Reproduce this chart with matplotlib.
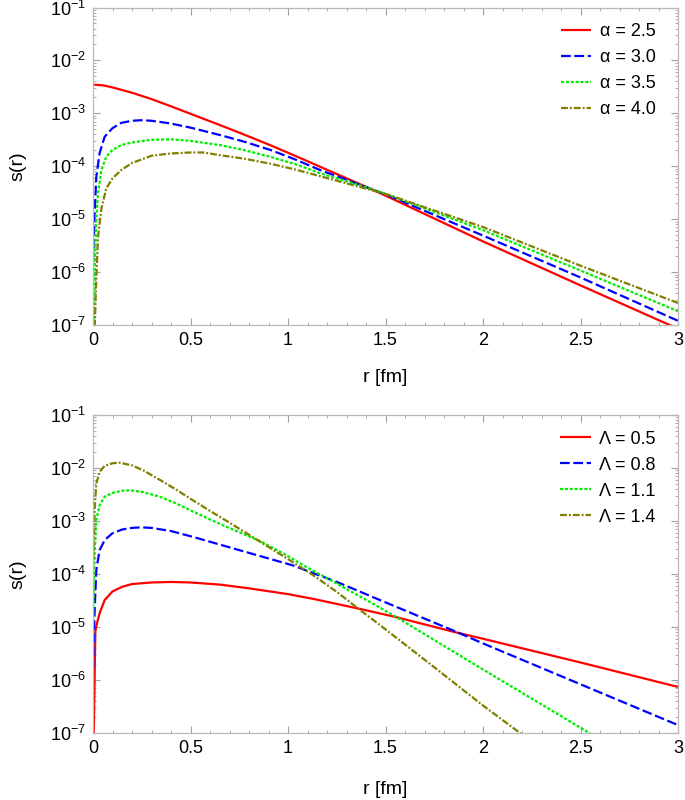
import matplotlib
matplotlib.use("Agg")
import matplotlib.pyplot as plt
from matplotlib.ticker import LogLocator, MultipleLocator, FixedLocator, FuncFormatter
import math

plt.rcParams['font.family'] = ['Liberation Sans', 'DejaVu Sans']
plt.rcParams['mathtext.default'] = 'regular'
plt.rcParams['lines.scale_dashes'] = False

# ---- top panel: alpha series ----
alpha_labels = ['α = 2.5', 'α = 3.0', 'α = 3.5', 'α = 4.0']

r_a25 = [0, 0.05, 0.1, 0.2, 0.3, 0.395, 0.5, 0.651, 0.78, 0.908, 1.036, 1.164,
         1.42, 1.5, 2.0, 2.5, 3.0]
s_a25 = [3.49e-3, 3.39e-3, 3.09e-3, 2.45e-3, 1.86e-3, 1.38e-3, 9.8e-4, 6.0e-4,
         3.9e-4, 2.51e-4, 1.58e-4, 9.8e-5, 3.8e-5, 2.79e-5, 3.8e-6, 5.6e-7, 8.5e-8]

r_a30 = [0, 0.009, 0.017, 0.034, 0.06, 0.1, 0.145, 0.2, 0.248, 0.3, 0.395, 0.5,
         0.651, 0.78, 0.908, 1.036, 1.164, 1.42, 1.5, 2.0, 2.5, 3.0]
s_a30 = [1.55e-6, 1.48e-5, 6.3e-5, 1.78e-4, 3.63e-4, 5.25e-4, 6.6e-4, 7.24e-4,
         7.41e-4, 7.24e-4, 6.46e-4, 5.37e-4, 3.89e-4, 2.88e-4, 2.04e-4, 1.35e-4,
         8.5e-5, 3.8e-5, 2.95e-5, 4.9e-6, 7.9e-7, 1.2e-7]

r_a35 = [0.003, 0.009, 0.017, 0.026, 0.043, 0.068, 0.1, 0.145, 0.2, 0.3, 0.395,
         0.5, 0.651, 0.78, 0.908, 1.036, 1.164, 1.42, 1.5, 2.0, 2.5, 3.0]
s_a35 = [1e-8, 1.23e-6, 1.10e-5, 3.09e-5, 8.5e-5, 1.51e-4, 2.04e-4, 2.51e-4,
         2.82e-4, 3.16e-4, 3.24e-4, 3.02e-4, 2.51e-4, 2.0e-4, 1.51e-4, 1.10e-4,
         7.4e-5, 3.8e-5, 3.02e-5, 6.2e-6, 1.07e-6, 1.82e-7]

r_a40 = [0.005, 0.009, 0.017, 0.026, 0.043, 0.068, 0.1, 0.145, 0.2, 0.3, 0.395,
         0.5, 0.566, 0.651, 0.78, 0.908, 1.036, 1.164, 1.42, 1.5, 2.0, 2.5, 3.0]
s_a40 = [1e-8, 1.0e-7, 7.9e-7, 4.6e-6, 1.58e-5, 3.8e-5, 5.9e-5, 8.5e-5, 1.15e-4,
         1.58e-4, 1.74e-4, 1.82e-4, 1.82e-4, 1.62e-4, 1.38e-4, 1.12e-4, 8.7e-5,
         6.5e-5, 3.6e-5, 3.0e-5, 7.1e-6, 1.32e-6, 2.6e-7]

# ---- bottom panel: Lambda series ----
lam_labels = ['Λ = 0.5', 'Λ = 0.8', 'Λ = 1.1', 'Λ = 1.4']

r_l05 = [0, 0.012, 0.02, 0.035, 0.06, 0.1, 0.15, 0.2, 0.3, 0.4, 0.5, 0.65, 0.8,
         1.0, 1.13, 1.37, 1.55, 1.85, 2.0, 2.5, 3.0]
s_l05 = [1e-8, 8.3e-6, 1.17e-5, 1.86e-5, 3.24e-5, 4.68e-5, 5.75e-5, 6.46e-5,
         6.92e-5, 7.08e-5, 6.92e-5, 6.31e-5, 5.37e-5, 4.17e-5, 3.39e-5, 2.19e-5,
         1.55e-5, 8.1e-6, 6.0e-6, 2.14e-6, 7.4e-7]

r_l08 = [0, 0.009, 0.017, 0.034, 0.06, 0.1, 0.15, 0.2, 0.248, 0.3, 0.4, 0.513,
         0.684, 0.855, 1.026, 1.12, 1.25, 1.47, 1.85, 2.0, 2.5, 3.0]
s_l08 = [1.55e-6, 2.4e-5, 1.2e-4, 2.82e-4, 4.37e-4, 5.89e-4, 6.92e-4, 7.41e-4,
         7.59e-4, 7.41e-4, 6.46e-4, 5.01e-4, 3.31e-4, 2.19e-4, 1.45e-4, 1.07e-4,
         7.1e-5, 3.24e-5, 8.5e-6, 4.9e-6, 8.3e-7, 1.41e-7]

r_l11 = [0, 0.009, 0.017, 0.034, 0.06, 0.1, 0.15, 0.188, 0.25, 0.342, 0.427,
         0.513, 0.6, 0.684, 0.855, 0.96, 1.1, 1.25, 1.47, 1.55, 2.0, 2.5, 2.6]
s_l11 = [1.2e-5, 2.82e-4, 1.05e-3, 2.0e-3, 2.88e-3, 3.39e-3, 3.72e-3, 3.8e-3,
         3.55e-3, 2.88e-3, 2.14e-3, 1.51e-3, 1.07e-3, 7.8e-4, 4.2e-4, 2.63e-4,
         1.32e-4, 6.6e-5, 2.34e-5, 1.58e-5, 1.58e-6, 1.26e-7, 7.6e-8]

r_l14 = [0, 0.009, 0.017, 0.034, 0.06, 0.1, 0.137, 0.2, 0.256, 0.342, 0.427,
         0.513, 0.6, 0.7, 0.8, 0.9, 1.0, 1.12, 1.25, 1.37, 1.47, 1.75, 2.0, 2.19, 2.25]
s_l14 = [1.05e-4, 1.86e-3, 5.1e-3, 8.5e-3, 1.10e-2, 1.23e-2, 1.26e-2, 1.12e-2,
         9.1e-3, 6.0e-3, 3.9e-3, 2.45e-3, 1.55e-3, 9.3e-4, 5.5e-4, 3.24e-4,
         1.91e-4, 1.0e-4, 4.6e-5, 2.09e-5, 1.10e-5, 1.74e-6, 3.3e-7, 1.0e-7, 6.8e-8]

colors = ['#ff0000', '#0000ff', '#00ee00', '#808000']
styles = [(0, ()), (0, (7, 2.6)), (0, (2.2, 1.3)), (0, (5, 1.4, 1.4, 1.4))]

fig = plt.figure(figsize=(6.85, 8.0), dpi=100)
ax1 = fig.add_axes([93 / 685, 1 - 325 / 800, 585 / 685, 317.5 / 800])
ax2 = fig.add_axes([93 / 685, 1 - 733 / 800, 585 / 685, 318 / 800])


def dec_fmt(v, pos):
    e = int(round(math.log10(v)))
    return r'$10^{%d}$' % e


def style_axis(ax):
    ax.set_yscale('log')
    ax.set_xlim(0, 3)
    ax.set_ylim(1e-7, 1e-1)
    ax.xaxis.set_major_locator(MultipleLocator(0.5))
    ax.xaxis.set_minor_locator(MultipleLocator(0.1))
    ax.xaxis.set_major_formatter(FuncFormatter(lambda v, p: '%g' % v))
    ax.yaxis.set_major_locator(FixedLocator([1e-7, 1e-6, 1e-5, 1e-4, 1e-3, 1e-2, 1e-1]))
    ax.yaxis.set_minor_locator(LogLocator(base=10, subs=range(2, 10)))
    ax.yaxis.set_major_formatter(FuncFormatter(dec_fmt))
    ax.yaxis.set_minor_formatter(FuncFormatter(lambda v, p: ''))
    ax.tick_params(which='both', direction='in', top=True, right=True,
                   color='#a0a0a0', labelsize=13, pad=5)
    ax.tick_params(which='major', length=5, width=0.8)
    ax.tick_params(which='minor', length=2.5, width=0.6)
    for sp in ax.spines.values():
        sp.set_color('#b8b8b8')
        sp.set_linewidth(0.9)


top_r = [r_a25, r_a30, r_a35, r_a40]
top_s = [s_a25, s_a30, s_a35, s_a40]
for r, s, c, ls, lab in zip(top_r, top_s, colors, styles, alpha_labels):
    ax1.plot(r, s, color=c, linestyle=ls, linewidth=1.6, label=lab)

bot_r = [r_l05, r_l08, r_l11, r_l14]
bot_s = [s_l05, s_l08, s_l11, s_l14]
for r, s, c, ls, lab in zip(bot_r, bot_s, colors, styles, lam_labels):
    ax2.plot(r, s, color=c, linestyle=ls, linewidth=1.6, label=lab)

for ax in (ax1, ax2):
    style_axis(ax)
    ax.legend(loc='upper right', frameon=False, fontsize=13, handlelength=1.7,
              handletextpad=0.45, labelspacing=0.5, borderaxespad=0.2,
              bbox_to_anchor=(0.98, 0.985))

fig.text(18 / 685, 1 - 166 / 800, 's(r)', rotation=90, ha='center', va='center', fontsize=14)
fig.text(18 / 685, 1 - 574 / 800, 's(r)', rotation=90, ha='center', va='center', fontsize=14)
fig.text(385 / 685, 1 - 378 / 800, 'r [fm]', ha='center', va='center', fontsize=14)
fig.text(385 / 685, 1 - 790 / 800, 'r [fm]', ha='center', va='center', fontsize=14)

fig.savefig('out.png', dpi=100)
